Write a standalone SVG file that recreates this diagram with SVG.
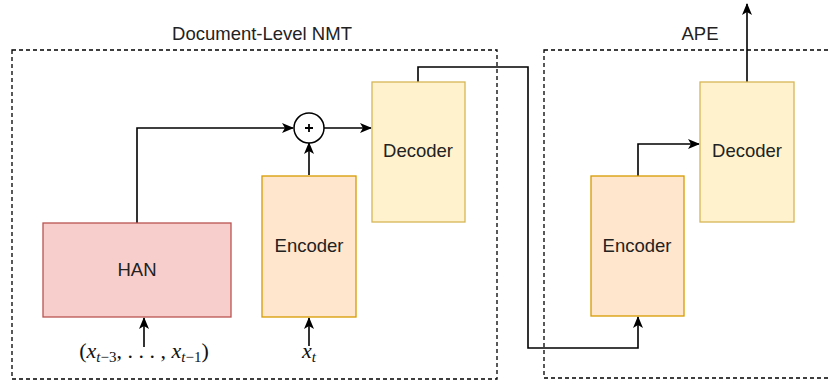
<svg xmlns="http://www.w3.org/2000/svg" width="831" height="385" viewBox="0 0 831 385">
  <defs>
    <marker id="arrow" viewBox="0 0 12 10" refX="11" refY="5" markerWidth="12" markerHeight="10" markerUnits="userSpaceOnUse" orient="auto">
      <path d="M0,0 L12,5 L0,10 L3,5 Z" fill="#000"/>
    </marker>
  </defs>
  <style>
    .group { fill: none; stroke: #000; stroke-width: 1.3; stroke-dasharray: 4 3; }
    .title { font-family: "Liberation Sans", Arial, sans-serif; font-size: 18.5px; fill: #222; text-anchor: middle; }
    .label { font-family: "Liberation Sans", Arial, sans-serif; font-size: 18.5px; fill: #222; text-anchor: middle; }
    .han { fill: #f8cecc; stroke: #b85450; stroke-width: 1.3; }
    .enc { fill: #ffe6cc; stroke: #d79b00; stroke-width: 1.3; }
    .dec { fill: #fff2cc; stroke: #d6b656; stroke-width: 1.3; }
    .edge { fill: none; stroke: #000; stroke-width: 1.6; }
    .arrow { marker-end: url(#arrow); }
    .math { font-family: "Liberation Serif", "DejaVu Serif", serif; font-size: 22px; fill: #111; text-anchor: middle; }
    .sub { font-size: 15px; }
    .it { font-style: italic; }
  </style>

  <!-- group frames -->
  <g id="doc-nmt">
    <rect class="group" x="12" y="50" width="485" height="329"/>
    <text class="title" x="262" y="40">Document-Level NMT</text>
  </g>
  <g id="ape">
    <rect class="group" x="544" y="50" width="300" height="328"/>
    <text class="title" x="700" y="40">APE</text>
  </g>

  <!-- connectors -->
  <g id="connectors">
    <!-- context vector from HAN into the sum -->
    <path class="edge arrow" d="M137,223 V128 H293"/>
    <!-- sum into NMT decoder -->
    <path class="edge arrow" d="M324,128 H371"/>
    <!-- NMT encoder into the sum -->
    <path class="edge arrow" d="M309,175 V143"/>
    <!-- inputs -->
    <path class="edge arrow" d="M144,347 V318"/>
    <path class="edge arrow" d="M309,346 V318"/>
    <!-- NMT decoder output into APE encoder -->
    <path class="edge arrow" d="M418,82 V67 H528 V348 H638 V317"/>
    <!-- APE encoder into APE decoder -->
    <path class="edge arrow" d="M638,176 V144 H699"/>
    <!-- final output -->
    <path class="edge arrow" d="M747,82 V4"/>
  </g>

  <!-- nodes -->
  <g id="han">
    <rect class="han" x="43" y="223" width="188" height="94"/>
    <text class="label" x="137" y="276">HAN</text>
  </g>
  <g id="nmt-encoder">
    <rect class="enc" x="262" y="176" width="94" height="141"/>
    <text class="label" x="309" y="252">Encoder</text>
  </g>
  <g id="sum">
    <circle cx="309" cy="128" r="15" fill="#fff" stroke="#000" stroke-width="1.5"/>
    <path d="M305,128 H313 M309,124 V132" stroke="#000" stroke-width="1.8"/>
  </g>
  <g id="nmt-decoder">
    <rect class="dec" x="372" y="82" width="93" height="140"/>
    <text class="label" x="418" y="157">Decoder</text>
  </g>
  <g id="ape-encoder">
    <rect class="enc" x="591" y="176" width="93" height="140"/>
    <text class="label" x="637" y="252">Encoder</text>
  </g>
  <g id="ape-decoder">
    <rect class="dec" x="700" y="82" width="94" height="140"/>
    <text class="label" x="747" y="157">Decoder</text>
  </g>

  <!-- input labels -->
  <g id="context-input">
    <text class="math" x="144" y="358">(<tspan class="it">x</tspan><tspan dy="4" class="sub"><tspan class="it">t</tspan>−3</tspan><tspan dy="-4">, . . . , </tspan><tspan class="it">x</tspan><tspan dy="4" class="sub"><tspan class="it">t</tspan>−1</tspan><tspan dy="-4">)</tspan></text>
  </g>
  <g id="current-input">
    <text class="math" x="309" y="358"><tspan class="it">x</tspan><tspan dy="4" class="sub it">t</tspan></text>
  </g>
</svg>
